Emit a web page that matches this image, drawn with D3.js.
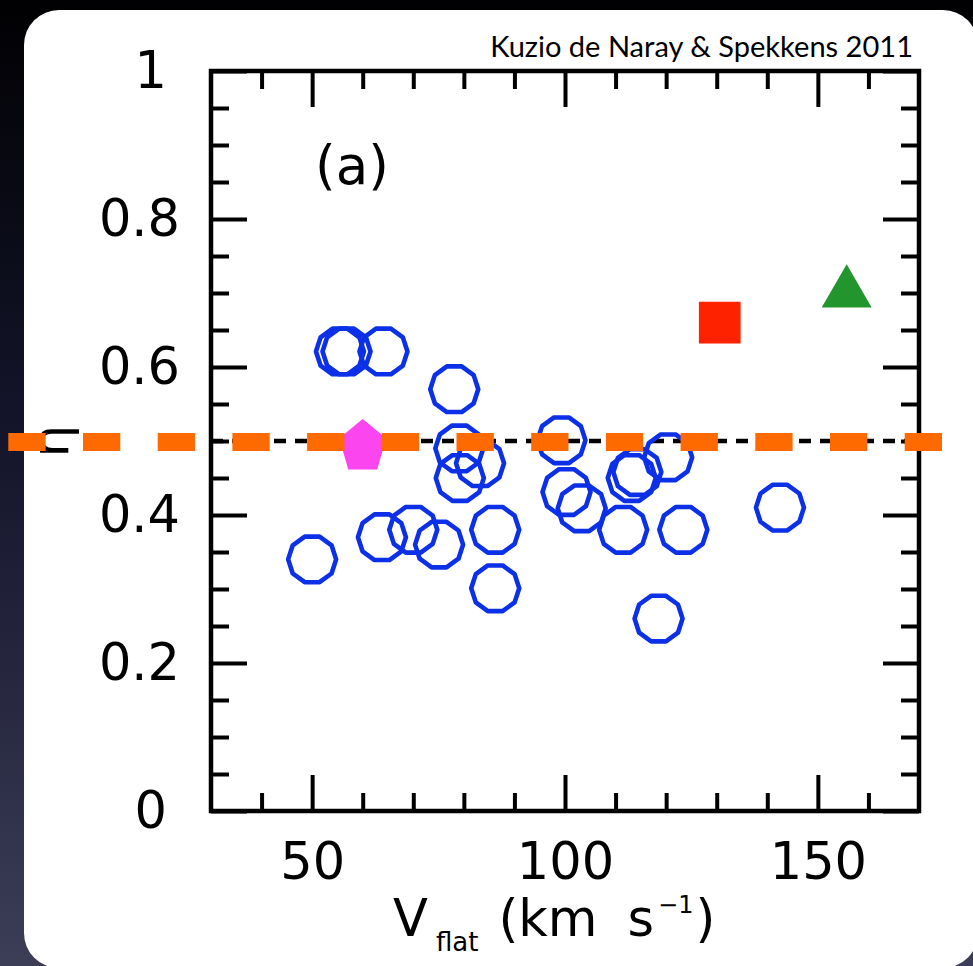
<!DOCTYPE html>
<html>
<head>
<meta charset="utf-8">
<script src="https://cdn.jsdelivr.net/npm/d3@7"></script>
<style>
  html, body { margin: 0; padding: 0; background: #000; }
  svg { display: block; }
</style>
</head>
<body>
<svg id="chart" width="973" height="966"></svg>
<script>
// ---- data ---------------------------------------------------------------
// Galaxy sample: rotation velocity V_flat (km/s) and eta
const vflat = [50.0, 55.5, 56.8, 64.1, 78.1, 79.1, 83.2, 79.2, 63.8, 70.0, 75.1, 86.2,
               86.2, 99.3, 100.3, 103.3, 111.5, 113.2, 114.3, 120.4, 123.4, 142.5, 118.5];
const eta   = [0.340, 0.621, 0.621, 0.621, 0.570, 0.490, 0.470, 0.450, 0.370, 0.380, 0.360, 0.380,
               0.301, 0.501, 0.431, 0.409, 0.380, 0.450, 0.458, 0.478, 0.380, 0.410, 0.260];

// highlighted individual objects
const specialNames = ["pentagon", "square", "triangle"];
const specialV     = [60.0, 130.6, 155.7];
const specialEta   = [0.492, 0.660, 0.700];

// reference level
const etaRef = 0.5;

// axes
const xDomain = [30, 170];
const yDomain = [0, 1];
const xMajorTicks = [50, 100, 150];
const xMinorTicks = [40, 60, 70, 80, 90, 110, 120, 130, 140, 160];
const yMajorTicks = [0, 0.2, 0.4, 0.6, 0.8, 1];
const yMinorTicks = [0.05, 0.1, 0.15, 0.25, 0.3, 0.35, 0.45, 0.5, 0.55, 0.65, 0.7, 0.75, 0.85, 0.9, 0.95];
const yTickLabels = ["0", "0.2", "0.4", "0.6", "0.8", "1"];
const xTickLabels = ["50", "100", "150"];
const citation = "Kuzio de Naray & Spekkens 2011";
const panelLabel = "(a)";

// ---- layout -------------------------------------------------------------
const W = 973, H = 966;
const plot = { left: 211, right: 919, top: 71, bottom: 811 };
const axisFont = "'DejaVu Sans', sans-serif";
const fs = 51;

const svg = d3.select("#chart");

// backdrop gradient
const defs = svg.append("defs");
const grad = defs.append("linearGradient").attr("id", "bg")
  .attr("x1", 0).attr("y1", 0).attr("x2", 0).attr("y2", 1);
grad.append("stop").attr("offset", "0").attr("stop-color", "#010103");
grad.append("stop").attr("offset", "0.45").attr("stop-color", "#14152b");
grad.append("stop").attr("offset", "1").attr("stop-color", "#3c3d57");
svg.append("rect").attr("width", W).attr("height", H).attr("fill", "url(#bg)");

// white rounded panel
svg.append("rect")
  .attr("x", 24).attr("y", 10).attr("width", 954).attr("height", 958)
  .attr("rx", 35).attr("ry", 35).attr("fill", "#ffffff");

const x = d3.scaleLinear().domain(xDomain).range([plot.left, plot.right]);
const y = d3.scaleLinear().domain(yDomain).range([plot.bottom, plot.top]);

// ---- axes (ticks point inward on all four sides) ------------------------
function styleAxis(g) {
  g.select(".domain").remove();
  g.selectAll(".tick line").attr("stroke", "#000").attr("stroke-width", 4);
  g.selectAll("text").attr("font-family", axisFont).attr("font-size", fs).attr("fill", "#000");
}
const major = 36, minor = 18;

// bottom
svg.append("g").attr("transform", `translate(0,${plot.bottom})`)
  .call(d3.axisBottom(x).tickValues(xMinorTicks).tickSize(-minor).tickFormat(""))
  .call(styleAxis);
svg.append("g").attr("transform", `translate(0,${plot.bottom})`)
  .call(d3.axisBottom(x).tickValues(xMajorTicks).tickSize(-major).tickPadding(32)
        .tickFormat((d, i) => xTickLabels[i]))
  .call(styleAxis);
// top
svg.append("g").attr("transform", `translate(0,${plot.top})`)
  .call(d3.axisTop(x).tickValues(xMinorTicks).tickSize(-minor).tickFormat(""))
  .call(styleAxis);
svg.append("g").attr("transform", `translate(0,${plot.top})`)
  .call(d3.axisTop(x).tickValues(xMajorTicks).tickSize(-major).tickFormat(""))
  .call(styleAxis);
// left
svg.append("g").attr("transform", `translate(${plot.left},0)`)
  .call(d3.axisLeft(y).tickValues(yMinorTicks).tickSize(-minor).tickFormat(""))
  .call(styleAxis);
const yLeft = svg.append("g").attr("transform", `translate(${plot.left},0)`)
  .call(d3.axisLeft(y).tickValues(yMajorTicks).tickSize(-major).tickPadding(31)
        .tickFormat((d, i) => yTickLabels[i]))
  .call(styleAxis);
// whole-number labels sit a little further in
yLeft.selectAll(".tick text").filter(function () { return this.textContent.indexOf(".") < 0; })
  .attr("x", -44);
// right
svg.append("g").attr("transform", `translate(${plot.right},0)`)
  .call(d3.axisRight(y).tickValues(yMinorTicks).tickSize(-minor).tickFormat(""))
  .call(styleAxis);
svg.append("g").attr("transform", `translate(${plot.right},0)`)
  .call(d3.axisRight(y).tickValues(yMajorTicks).tickSize(-major).tickFormat(""))
  .call(styleAxis);

// frame
svg.append("rect")
  .attr("x", plot.left).attr("y", plot.top)
  .attr("width", plot.right - plot.left).attr("height", plot.bottom - plot.top)
  .attr("fill", "none").attr("stroke", "#000").attr("stroke-width", 4.5);

// ---- axis titles ---------------------------------------------------------
const xt = svg.append("text")
  .attr("x", 393).attr("y", 936)
  .attr("font-family", axisFont).attr("font-size", fs).attr("fill", "#000");
xt.append("tspan").text("V");
xt.append("tspan").attr("dx", 8).attr("dy", 15).attr("font-size", 26).text("flat");
xt.append("tspan").attr("dx", 20).attr("dy", -15).text("(km");
xt.append("tspan").attr("dx", 30).text("s");
xt.append("tspan").attr("dx", 4).attr("dy", -23).attr("font-size", 24).text("\u22121");
xt.append("tspan").attr("dx", 2).attr("dy", 23).text(")");

svg.append("text")
  .attr("transform", `translate(68,${y(etaRef)}) rotate(-90)`)
  .attr("text-anchor", "middle")
  .attr("font-family", axisFont).attr("font-size", fs).attr("fill", "#000")
  .text("\u03b7");

// panel label
svg.append("text")
  .attr("x", 352).attr("y", 184).attr("text-anchor", "middle")
  .attr("font-family", axisFont).attr("font-size", 53).attr("fill", "#000")
  .text(panelLabel);

// citation, sized to its slot
const cite = svg.append("text")
  .attr("x", 913).attr("y", 57).attr("text-anchor", "end")
  .attr("font-family", "Lato, 'Open Sans', sans-serif").attr("font-size", 30)
  .attr("fill", "#000").text(citation);
const cw = cite.node().getComputedTextLength();
if (cw > 0) cite.attr("font-size", 30 * 423 / cw);

// ---- reference line ------------------------------------------------------
svg.append("line")
  .attr("x1", plot.left).attr("x2", plot.right)
  .attr("y1", y(etaRef)).attr("y2", y(etaRef))
  .attr("stroke", "#000").attr("stroke-width", 4.5)
  .attr("stroke-dasharray", "12 9");

// ---- sample points: open decagons ---------------------------------------
const decagon = d3.range(10).map(k => {
  const a = k * Math.PI / 5;
  return [24 * Math.cos(a), 24 * Math.sin(a)];
});
const polyLine = d3.line().curve(d3.curveLinearClosed);

svg.append("g").selectAll("path")
  .data(d3.range(vflat.length))
  .join("path")
  .attr("transform", i => `translate(${x(vflat[i])},${y(eta[i])})`)
  .attr("d", polyLine(decagon))
  .attr("fill", "none").attr("stroke", "#0b30e8").attr("stroke-width", 4.6)
  .attr("stroke-linejoin", "round");

// ---- highlighted objects -----------------------------------------------
const pentagon = d3.range(5).map(k => {
  const a = -Math.PI / 2 + k * 2 * Math.PI / 5;
  return [0.88 * 28 * Math.cos(a), 28 * Math.sin(a)];
});
const specialShape = {
  pentagon: polyLine(pentagon),
  square: d3.symbol(d3.symbolSquare, 1739)(),
  triangle: d3.symbol(d3.symbolTriangle, 1082)()
};
const specialColor = { pentagon: "#fb45ef", square: "#ff2200", triangle: "#23952d" };

svg.append("g").selectAll("path")
  .data(d3.range(specialNames.length))
  .join("path")
  .attr("transform", i => `translate(${x(specialV[i])},${y(specialEta[i])})`)
  .attr("d", i => specialShape[specialNames[i]])
  .attr("fill", i => specialColor[specialNames[i]]);

// ---- orange overlay across the whole slide at the reference level ---------
svg.append("line")
  .attr("x1", 8.3).attr("x2", 942)
  .attr("y1", y(etaRef) + 1).attr("y2", y(etaRef) + 1)
  .attr("stroke", "#ff6a00").attr("stroke-width", 18)
  .attr("stroke-dasharray", "37.3 37.4");
</script>
</body>
</html>
